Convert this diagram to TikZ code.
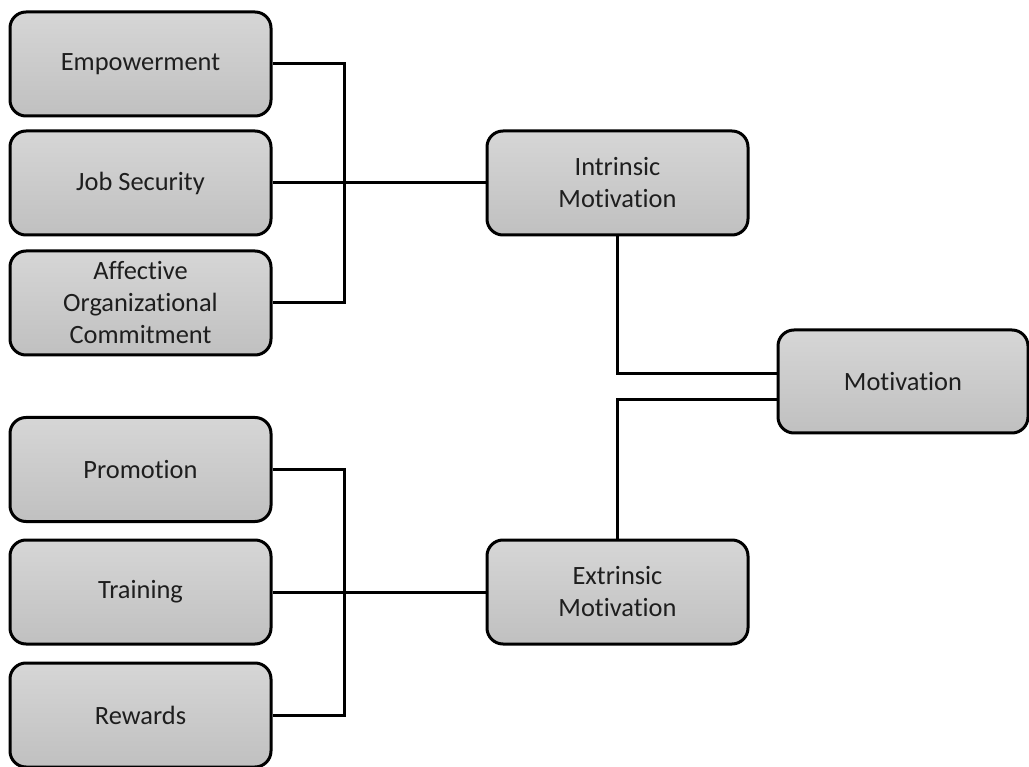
\documentclass[tikz,border=0pt]{standalone}
\usepackage{fontspec}
\setmainfont{Carlito}[Ligatures={NoCommon,NoRequired,NoContextual}]
\definecolor{boxtop}{RGB}{214,214,214}
\definecolor{boxbot}{RGB}{192,192,192}
\definecolor{txt}{RGB}{30,30,30}
\begin{document}
\begin{tikzpicture}[x=1pt,y=-1pt,
  box/.style={draw=black, line width=3pt, rounded corners=16pt,
    top color=boxtop, bottom color=boxbot, shading angle=0,
    minimum width=261pt, minimum height=104pt, inner sep=0pt,
    align=center, text=txt, font=\fontsize{26.4pt}{32pt}\selectfont},
  conn/.style={draw=black, line width=3pt}]
\useasboundingbox (0,0) rectangle (1029,767);
% left boxes
\node[box] (emp) at (140.5,64) {Empowerment};
\node[box] (job) at (140.5,183) {Job Security};
\node[box] (aff) at (140.5,303) {Affective\\Organizational\\Commitment};
\node[box] (pro) at (140.5,469.5) {Promotion};
\node[box] (tra) at (140.5,592) {Training};
\node[box] (rew) at (140.5,715) {Rewards};
% middle
\node[box] (intr) at (617.5,183) {Intrinsic\\Motivation};
\node[box] (extr) at (617.5,592) {Extrinsic\\Motivation};
% right
\node[box, minimum width=250pt, minimum height=103pt] (mot) at (903,381.5) {Motivation};
% brackets
\coordinate (b1) at (344,183);
\coordinate (b2) at (344,592);
\draw[conn] (emp.east) -| (b1) |- (aff.east);
\draw[conn] (job.east) -- (intr.west);
\draw[conn] (pro.east) -| (b2) |- (rew.east);
\draw[conn] (tra.east) -- (extr.west);
\draw[conn] (intr.south) |- ([yshift=7.5pt]mot.west);
\draw[conn] (extr.north) |- ([yshift=-18.5pt]mot.west);
\end{tikzpicture}
\end{document}
